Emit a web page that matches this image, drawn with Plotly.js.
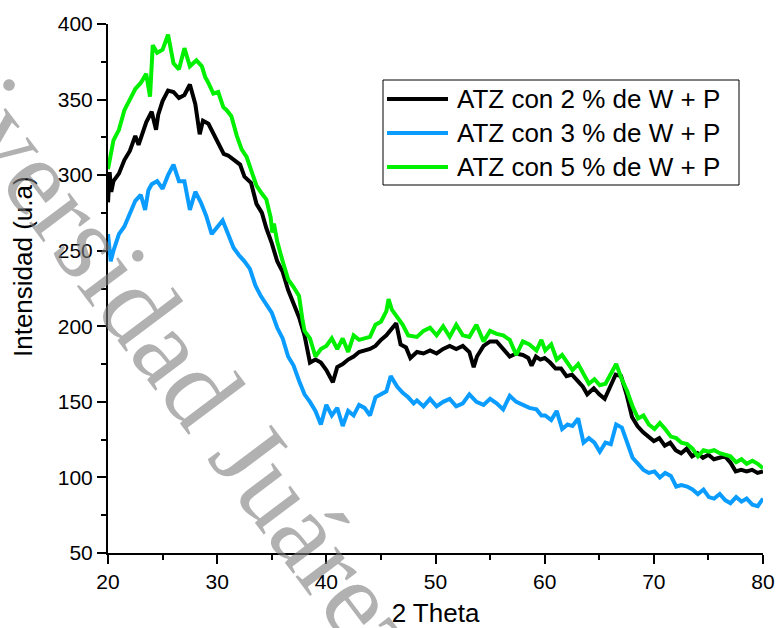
<!DOCTYPE html>
<html>
<head>
<meta charset="utf-8">
<script src="https://cdn.plot.ly/plotly-3.0.1.min.js"></script>
<style>html,body{margin:0;padding:0;background:#fff;}#chart{width:777px;height:628px;}</style>
</head>
<body>
<div id="chart"></div>
<script>
// ATZ con 2 % de W + P
var x2 = [20,20.15,20.3,20.5,21,21.5,22,22.5,22.8,23,23.5,24,24.4,24.6,25,25.5,26,26.5,27,27.5,28,28.4,28.7,29.2,29.8,30.25,30.6,31,31.6,32.1,32.5,33.1,33.6,34.1,34.5,35,35.5,36,36.5,37,37.5,38,38.5,39,39.5,40,40.6,41,41.5,42,42.5,43,43.5,44,44.5,45,45.5,46,46.4,46.8,47.3,47.7,48.3,48.9,49.5,50.1,50.7,51.3,51.9,52.5,53.1,53.5,53.8,54.4,55,55.6,56.2,56.8,57.4,58,58.5,58.8,59.2,59.6,60,60.5,61,61.5,62,62.5,63,63.5,63.9,64.5,65,65.5,66,66.5,67,67.5,68,68.5,69,69.5,70,70.5,71,71.5,72,72.5,73,73.5,74,74.5,75,75.5,76,76.5,77,77.3,77.5,78,78.5,79,79.5,80];
var y2 = [282,302,289,296,301,310,316,326,320,324,335,342,330,340,349,356,355,351,353,360,347,327,336,334,325,319,314,313,310,307,299,295,281,275,265,255,243,236,224,215,206,194,176,178,176,171,163,173,175,178,180,183,184,185,187,191,194,199,202,188,186,179,183,182,184,182,185,187,185,187,183,173,180,187,190,190,185,180,182,181,179,174,180,178,179,176,172,172,167,168,164,160,155,159,155,152,160,168,167,155,140,134,130,127,124,126,121,123,118,116,119,114,116,113,115,112,113,114,110,106,104,105,104,105,103,104];

// ATZ con 3 % de W + P
var x3 = [20,20.25,20.5,21,21.5,22,22.5,23,23.4,23.7,24,24.5,25,25.5,26,26.5,27,27.5,28,28.5,29,29.5,30,30.5,31,31.5,32,32.5,33,33.5,34,34.5,35,35.5,36,36.5,37,37.5,38,38.5,39,39.5,40,40.5,41,41.5,42,42.5,43,43.5,44,44.5,45,45.5,45.9,46.5,47,47.5,48,48.3,48.9,49.5,50.1,50.7,51.3,51.9,52.5,53.1,53.75,54.4,55,55.6,56.2,56.8,57.4,58,58.6,59.25,59.7,60.05,60.6,61.1,61.6,62.1,62.55,63.07,63.56,64.05,64.56,65.05,65.57,66.06,66.55,67.07,67.56,68.05,68.56,69.05,69.54,70.06,70.55,71.04,71.56,72.05,72.53,73.05,73.54,74.03,74.55,75.04,75.52,76.04,76.53,77.02,77.54,78.03,78.5,79.03,79.52,80];
var y3 = [261,243,250,261,266,275,283,287,277,290,294,296,291,300,307,296,296,277,289,282,273,261,266,270,261,252,247,243,238,227,220,215,209,199,192,180,174,164,155,150,144,135,148,141,146,134,144,141,148,146,141,153,155,157,167,160,156,153,149,151,147,152,147,150,152,147,149,155,150,148,152,149,145,154,150,148,146,145,141,141,138,144,132,135,134,139,123,126,123,117,123,122,135,133,123,113,109,105,103,104,100,103,101,94,95,94,92,89,92,87,86,89,85,83,87,84,86,82,81,86];

// ATZ con 5 % de W + P
var x5 = [20,20.5,21,21.5,22,22.5,23,23.5,23.85,24.1,24.5,25,25.5,26,26.5,27,27.5,28.1,28.6,28.9,29.2,29.65,30.1,30.56,30.87,31.3,31.8,32.24,32.7,33.16,33.6,34.07,34.5,34.9,35.05,35.2,35.5,36,36.5,37,37.5,37.8,38,38.5,39,39.5,40,40.5,41,41.5,42,42.5,43,43.5,44,44.5,45,45.5,45.7,46,46.5,47,47.5,48,48.3,48.9,49.5,50.1,50.7,51.3,51.9,52.5,53.1,53.75,54.4,55,55.6,56.2,56.8,57.4,58,58.6,59.25,59.7,60.05,60.6,61.1,61.6,62.1,62.55,63.07,63.56,64.05,64.56,65.05,65.57,66.06,66.55,67.07,67.56,68.05,68.56,69.05,69.54,70.06,70.55,71.04,71.56,72.05,72.53,73.05,73.54,74.03,74.55,75.04,75.52,76.04,76.53,77.02,77.54,78.03,78.5,79.03,79.52,80];
var y5 = [304,323,330,343,350,357,361,367,352,386,381,383,393,374,370,384,372,376,372,365,361,354,355,345,343,339,326,317,312,303,293,288,284,272,262,268,256,243,231,226,220,205,197,192,180,185,187,192,185,192,183,194,191,192,193,201,203,210,218,211,206,201,194,193,193,197,199,194,200,193,201,194,193,201,190,197,195,194,191,181,190,188,184,191,184,188,178,181,176,171,175,168,162,165,161,162,168,175,165,157,147,139,141,135,132,136,132,127,126,123,122,119,114,118,117,118,116,115,114,110,112,109,111,109,106];

var names = ["ATZ con 2 % de W + P", "ATZ con 3 % de W + P", "ATZ con 5 % de W + P"];
var colors = ["#000000", "#0a9cff", "#00f000"];
var xTitle = "2 Theta";
var yTitle = "Intensidad (u.a)";
var watermark = "Universidad Juárez";

var font = "Liberation Sans, Arial, Helvetica, sans-serif";

// plot area in pixels (for placing legend / labels in paper coordinates)
var W = 777, H = 628, mL = 108, mR = 14, mT = 24, mB = 75;
var pw = W - mL - mR, ph = H - mT - mB;
function px(v) { return (v - mL) / pw; }
function py(v) { return (H - mB - v) / ph; }

var xs = [x2, x3, x5], ys = [y2, y3, y5];
var traces = [];
for (var i = 0; i < 3; i++) {
  traces.push({x: xs[i], y: ys[i], name: names[i], type: "scatter", mode: "lines",
               line: {color: colors[i], width: 4}, showlegend: false});
}

// legend drawn as a boxed key
var shapes = [{type: "rect", xref: "paper", yref: "paper", x0: px(383), x1: px(739), y0: py(185), y1: py(80),
               line: {color: "#000", width: 1}, fillcolor: "#ffffff", layer: "above"}];
var annotations = [];
var rowY = [99, 133, 167];
for (var k = 0; k < 3; k++) {
  shapes.push({type: "line", xref: "paper", yref: "paper", x0: px(387), x1: px(448), y0: py(rowY[k]), y1: py(rowY[k]),
               line: {color: colors[k], width: 4}, layer: "above"});
  annotations.push({text: names[k], xref: "paper", yref: "paper", x: px(455), y: py(rowY[k]),
                    xanchor: "left", yanchor: "middle", showarrow: false,
                    font: {family: font, size: 26, color: "#000"}});
}
annotations.push({text: yTitle, xref: "paper", yref: "paper", x: px(23), y: py(267),
                  xanchor: "center", yanchor: "middle", showarrow: false, textangle: -90,
                  font: {family: font, size: 26, color: "#000"}});
annotations.push({text: watermark, xref: "paper", yref: "paper", x: px(150), y: py(322),
                  xanchor: "center", yanchor: "middle", showarrow: false, textangle: 53,
                  font: {family: "Liberation Serif, Times New Roman, serif", size: 110, color: "rgba(125,125,125,0.6)"}});

var layout = {
  width: W, height: H,
  margin: {l: mL, r: mR, t: mT, b: mB},
  paper_bgcolor: "#ffffff", plot_bgcolor: "#ffffff",
  font: {family: font, color: "#000"},
  showlegend: false,
  xaxis: {
    range: [20, 80], dtick: 10, tick0: 20,
    showline: true, linecolor: "#000", linewidth: 2, mirror: false,
    ticks: "outside", ticklen: 9, tickwidth: 2, tickcolor: "#000",
    minor: {dtick: 5, ticks: "outside", ticklen: 5, tickwidth: 2, tickcolor: "#000", showgrid: false},
    showgrid: false, zeroline: false,
    tickfont: {family: font, size: 21, color: "#000"},
    title: {text: xTitle, font: {family: font, size: 26, color: "#000"}, standoff: 15}
  },
  yaxis: {
    range: [50, 400], dtick: 50, tick0: 50,
    showline: true, linecolor: "#000", linewidth: 2, mirror: false,
    ticks: "outside", ticklen: 9, tickwidth: 2, tickcolor: "#000",
    minor: {dtick: 25, ticks: "outside", ticklen: 5, tickwidth: 2, tickcolor: "#000", showgrid: false},
    showgrid: false, zeroline: false,
    tickfont: {family: font, size: 21, color: "#000"}
  },
  shapes: shapes,
  annotations: annotations
};

Plotly.newPlot("chart", traces, layout, {displayModeBar: false, staticPlot: true});
</script>
</body>
</html>
